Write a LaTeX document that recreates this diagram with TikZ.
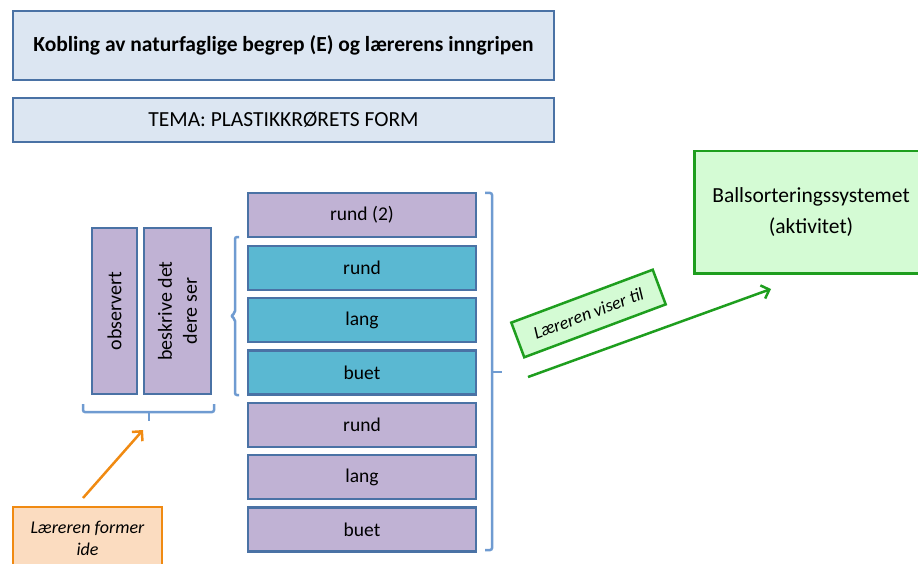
\documentclass[tikz,border=0pt]{standalone}
\usepackage{fontspec}
\setmainfont{Carlito}
\usetikzlibrary{arrows.meta}
\definecolor{edgeblue}{HTML}{4A72A5}
\definecolor{paleblue}{HTML}{DCE6F2}
\definecolor{lilac}{HTML}{C0B2D4}
\definecolor{teal}{HTML}{5AB8D2}
\definecolor{bracketblue}{HTML}{6F9BD1}
\definecolor{greenedge}{HTML}{1E9E1E}
\definecolor{greenfill}{HTML}{D4FBD4}
\definecolor{orangeedge}{HTML}{F08A12}
\definecolor{orangefill}{HTML}{FBDCC0}
\begin{document}
\begin{tikzpicture}[x=1pt,y=-1pt,
  box/.style={draw=edgeblue, line width=2.5pt, inner sep=0pt, align=center,
    font=\fontsize{19.5}{24}\selectfont},
  topbox/.style={box, fill=paleblue, minimum width=541pt, font=\fontsize{21.5}{26}\selectfont},
  lilacbox/.style={box, fill=lilac, minimum width=228pt, minimum height=44pt},
  tealbox/.style={box, fill=teal, minimum width=228pt, minimum height=44pt},
  greenbox/.style={draw=greenedge, fill=greenfill, line width=2.5pt, inner sep=0pt,
    align=center, font=\fontsize{21.5}{31}\selectfont},
  orangebox/.style={draw=orangeedge, fill=orangefill, line width=2.5pt, inner sep=0pt,
    align=center, font=\fontsize{18}{22}\selectfont\itshape},
  bracket/.style={draw=bracketblue, line width=2.5pt, rounded corners=2pt},
  arrowline/.style={line width=2.5pt, -{Straight Barb[length=7pt,width=14pt,line width=2.5pt]}}
]
\useasboundingbox (0,0) rectangle (918,564);

% heading boxes
\node[topbox, minimum height=69pt, font=\fontsize{21.5}{26}\selectfont\bfseries] (title) at (283.5,45.5)
  {Kobling av naturfaglige begrep (E) og lærerens inngripen};
\node[topbox, minimum height=44pt] (tema) at (283.5,120) {TEMA: PLASTIKKRØRETS FORM};

% vertical boxes
\node[box, fill=lilac, minimum width=45pt, minimum height=166pt] (obs) at (114.5,311) {};
\node[rotate=90, font=\fontsize{20}{25}\selectfont] (obstext) at (obs.center) {observert};
\node[box, fill=lilac, minimum width=67pt, minimum height=166pt] (besk) at (177.5,311) {};
\node[rotate=90, align=center, font=\fontsize{20}{25}\selectfont] (besktext) at (besk.center) {beskrive det\\dere ser};

% stack of words
\node[lilacbox] (r2) at (362,215) {rund (2)};
\node[tealbox] (t1) at (362,268) {rund};
\node[tealbox] (t2) at (362,320) {lang};
\node[tealbox] (t3) at (362,372.5) {buet};
\node[lilacbox] (p1) at (362,425) {rund};
\node[lilacbox] (p2) at (362,477) {lang};
\node[lilacbox] (p3) at (362,529.5) {buet};

% activity box
\node[greenbox, minimum width=232pt, minimum height=122pt, anchor=north west] (act) at (693,150) {};
\node[align=center, font=\fontsize{21.5}{31}\selectfont] (acttext) at (811,212)
  {Ballsorteringssystemet\\(aktivitet)};

% teacher boxes
\node[orangebox, minimum width=149pt, minimum height=72pt] (former) at (87.5,543) {};
\node[align=center, font=\fontsize{18}{22}\selectfont\itshape] (formertext) at (87.5,538)
  {Læreren former\\ide};
\node[greenbox, minimum width=151pt, minimum height=37pt, rotate=20.5,
  font=\fontsize{18}{22}\selectfont\itshape] (viser) at (588.5,313.5) {Læreren viser til};

% brackets
\draw[bracket] (239,237) -- (235,237) -- (235,313) -- (231,316) -- (235,319) -- (235,395) -- (239,395);
\draw[bracket] (83,404) -- (83,412) -- (214,412) -- (214,404);
\draw[bracket, rounded corners=0pt] (149,412) -- (149,421);
\draw[bracket] (485,193) -- (492,193) -- (492,550) -- (485,550);
\draw[bracket, rounded corners=0pt] (492,372) -- (502,372);

% arrows
\coordinate (orangestart) at (83,498);
\coordinate (orangeend) at (143,430);
\coordinate (greenstart) at (528,377);
\coordinate (greenend) at (771,289);
\draw[arrowline, draw=orangeedge] (orangestart) -- (orangeend);
\draw[arrowline, draw=greenedge] (greenstart) -- (greenend);
\end{tikzpicture}
\end{document}
